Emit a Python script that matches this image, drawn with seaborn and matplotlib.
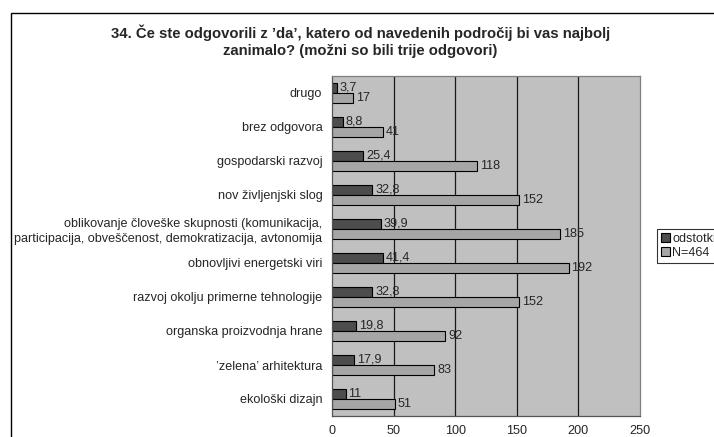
#!/usr/bin/env python3
# -*- coding: utf-8 -*-
"""
Horizontal bar chart: interest areas (percent and count, N=464)
"""
import pandas as pd
import numpy as np
import matplotlib
matplotlib.use('Agg')
import matplotlib.pyplot as plt
import seaborn as sns
from matplotlib.patches import Rectangle

categories = ['drugo',
              'brez odgovora',
              'gospodarski razvoj',
              'nov življenjski slog',
              'oblikovanje človeške skupnosti (komunikacija,\nparticipacija, obveščenost, demokratizacija, avtonomija',
              'obnovljivi energetski viri',
              'razvoj okolju primerne tehnologije',
              'organska proizvodnja hrane',
              '’zelena’ arhitektura',
              'ekološki dizajn']
odstotki = [3.7, 8.8, 25.4, 32.8, 39.9, 41.4, 32.8, 19.8, 17.9, 11]
stevilo = [17, 41, 118, 152, 185, 192, 152, 92, 83, 51]
series = ['odstotki', 'N=464']
xticks = [0, 50, 100, 150, 200, 250]

title = '34. Če ste odgovorili z ’da’, katero od navedenih področij bi vas najbolj\nzanimalo? (možni so bili trije odgovori)'

df = pd.concat([
    pd.DataFrame({'cat': categories, 'val': odstotki, 'serija': series[0]}),
    pd.DataFrame({'cat': categories, 'val': stevilo, 'serija': series[1]}),
])

sns.set_style('white')
plt.rcParams['font.family'] = ['Liberation Sans', 'DejaVu Sans']
FS = 9.1

fig = plt.figure(figsize=(7.14, 4.37), dpi=100)
ax = fig.add_axes([332/714, 1-416/437, (640-332)/714, (416-76)/437])

sns.barplot(data=df, y='cat', x='val', hue='serija', hue_order=series,
            order=categories, orient='h', palette=['#4d4d4d', '#a6a6a6'],
            width=0.6, edgecolor='black', linewidth=0.8, ax=ax, legend=True)

ax.set_facecolor('#c0c0c0')
ax.set_xlim(0, 250)
ax.set_ylim(len(categories)-0.5, -0.5)
ax.set_xticks(xticks)
ax.set_xticklabels([str(t) for t in xticks], fontsize=FS)
ax.set_xlabel('')
ax.set_ylabel('')
for t in xticks[1:-1]:
    ax.axvline(t, color='#1a1a1a', lw=0.9, zorder=0.5)

ax.set_yticks(range(len(categories)))
ax.set_yticklabels(categories, fontsize=FS, linespacing=1.3)
ax.tick_params(axis='y', which='major', length=0, pad=7)
ax.set_yticks(np.arange(-0.5, len(categories)), minor=True)
ax.tick_params(axis='y', which='minor', length=4, direction='out', color='#333333')
ax.tick_params(axis='x', which='major', length=2.5, direction='out', color='#333333', pad=4)

for s in ['left', 'bottom']:
    ax.spines[s].set_color('#555555')
for s in ['top', 'right']:
    ax.spines[s].set_color('#808080')
for s in ax.spines.values():
    s.set_linewidth(0.9)

# data labels with decimal comma
for cont, vals in zip(ax.containers, [odstotki, stevilo]):
    labs = [('{}'.format(v)).replace('.', ',') for v in vals]
    ax.bar_label(cont, labels=labs, padding=2, fontsize=FS)

leg = ax.legend(loc='upper left', bbox_to_anchor=(657/714, 1-229/437),
                bbox_transform=fig.transFigure, fontsize=FS, frameon=True,
                fancybox=False, edgecolor='black', borderpad=0.3,
                handlelength=0.7, handleheight=0.7, handletextpad=0.2,
                labelspacing=0.2, borderaxespad=0)
leg.get_frame().set_linewidth(0.8)

fig.text(0.505, 1-41.5/437, title, ha='center', va='center', fontsize=10.7,
         fontweight='bold', linespacing=1.25)

fig.patches.append(Rectangle((11.5/714, -0.2), 1.2, 1.2-13.3/437,
                             transform=fig.transFigure, fill=False,
                             edgecolor='black', lw=1.0))

fig.savefig('out.png', dpi=100, facecolor='white')
